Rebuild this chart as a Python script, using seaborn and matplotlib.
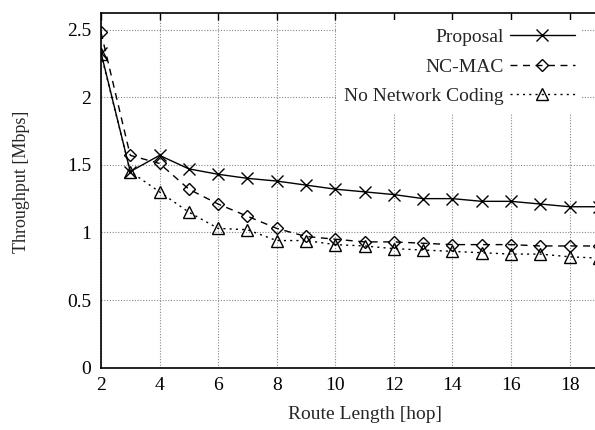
import matplotlib
matplotlib.use("Agg")
import matplotlib.pyplot as plt
import seaborn as sns
import pandas as pd

hops = list(range(2, 20))
proposal = [2.33, 1.45, 1.57, 1.47, 1.43, 1.40, 1.38, 1.35, 1.32, 1.30, 1.28, 1.25, 1.25, 1.23, 1.23, 1.21, 1.19, 1.19]
ncmac = [2.48, 1.57, 1.51, 1.32, 1.21, 1.12, 1.03, 0.97, 0.95, 0.93, 0.93, 0.92, 0.91, 0.91, 0.91, 0.90, 0.90, 0.90]
nonc = [2.32, 1.45, 1.30, 1.15, 1.03, 1.02, 0.94, 0.94, 0.91, 0.90, 0.88, 0.87, 0.86, 0.85, 0.84, 0.84, 0.82, 0.81]
labels = ["Proposal", "NC-MAC", "No Network Coding"]
xticks = [2, 4, 6, 8, 10, 12, 14, 16, 18]
yticks = [0, 0.5, 1, 1.5, 2, 2.5]
ytick_labels = ["0", "0.5", "1", "1.5", "2", "2.5"]

sns.set_theme(style="white")
plt.rcParams['font.family'] = ['Liberation Serif', 'DejaVu Serif']
FS = 14
plt.rcParams['font.size'] = FS

fig = plt.figure(figsize=(5.95, 4.30), dpi=100)
ax = fig.add_axes([0.1697, 0.1449, 0.886, 0.8241])

styles = [
    dict(marker='x', linestyle='-', markersize=8.5, markeredgewidth=1.0),
    dict(marker='D', linestyle=(0, (5, 4)), markersize=6, markeredgewidth=1.0, markerfacecolor='none'),
    dict(marker='^', linestyle=(0, (1.5, 3)), markersize=8, markeredgewidth=1.0, markerfacecolor='none'),
]
for vals, lab, st in zip([proposal, ncmac, nonc], labels, styles):
    df = pd.DataFrame({"hop": hops, "thr": vals})
    sns.lineplot(data=df, x="hop", y="thr", ax=ax, color='black', linewidth=1.0,
                 markeredgecolor='black', label=lab, **st)

ax.set_xlim(2, 20)
ax.set_ylim(0, 2.62)
ax.set_xticks(xticks)
ax.set_xticklabels([str(t) for t in xticks])
ax.set_yticks(yticks)
ax.set_yticklabels(ytick_labels)
ax.tick_params(direction='in', top=True, right=True, length=5, width=1, pad=7,
               labelsize=FS, colors='black')
ax.grid(True, color='#888888', linestyle=(0, (1, 1.5)), linewidth=0.8)
for s in ax.spines.values():
    s.set_color('black')
    s.set_linewidth(1.2)
ax.set_xlabel("Route Length [hop]", fontsize=FS, labelpad=8)
ax.set_ylabel("Throughput [Mbps]", fontsize=13)
ax.yaxis.set_label_coords(-0.135, 0.524)

leg = ax.legend(loc='upper right', bbox_to_anchor=(0.995, 0.975), bbox_transform=fig.transFigure,
                markerfirst=False, frameon=True, fancybox=False, handlelength=3.3,
                labelspacing=0.62, fontsize=FS, borderpad=0.4, handletextpad=0.35)
leg.get_frame().set_facecolor('white')
leg.get_frame().set_edgecolor('none')
leg.get_frame().set_alpha(1.0)
leg._legend_box.align = "right"

fig.savefig("out.png", dpi=100)
